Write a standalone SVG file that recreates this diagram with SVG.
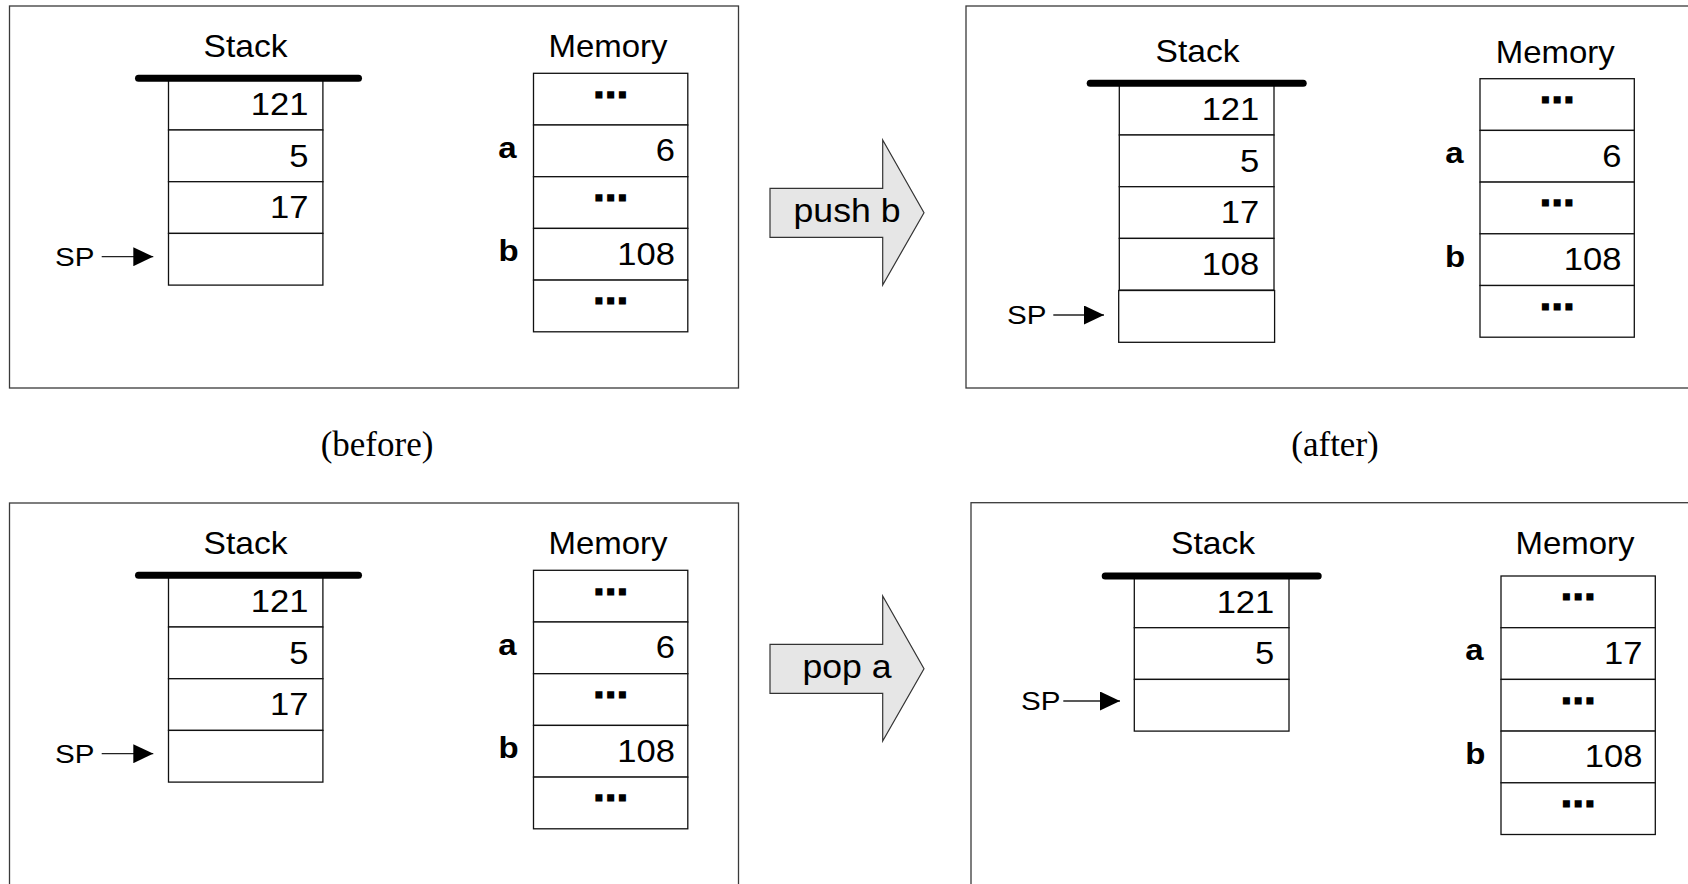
<svg xmlns="http://www.w3.org/2000/svg" width="1688" height="884" viewBox="0 0 1688 884">
  <defs>
    <style>
      .panel { fill: none; stroke: #3a3a3a; stroke-width: 1.3; }
      .cell { fill: #ffffff; stroke: #111111; stroke-width: 1.3; }
      .bar { stroke: #000000; stroke-width: 7; stroke-linecap: round; }
      .op { fill: #e6e6e6; stroke: #333333; stroke-width: 1.2; stroke-linejoin: miter; }
      .ptr { stroke: #222222; stroke-width: 1.3; marker-end: url(#head); }
      text { font-family: "Liberation Sans", Arial, sans-serif; fill: #000000; }
      .title { font-size: 32px; text-anchor: middle; }
      .num { font-size: 32px; text-anchor: end; }
      .dots { font-size: 30px; font-weight: bold; text-anchor: middle; letter-spacing: 3.4px; stroke: #000000; stroke-width: 2.8; stroke-linejoin: miter; }
      .var { font-size: 30px; font-weight: bold; text-anchor: middle; }
      .sp { font-size: 25.5px; text-anchor: end; }
      .opl { font-size: 33px; text-anchor: middle; }
      .cap { font-family: "Liberation Serif", "Times New Roman", serif; font-size: 35px; text-anchor: middle; }
    </style>
    <marker id="head" markerWidth="20" markerHeight="19" refX="20" refY="9.5" orient="auto" markerUnits="userSpaceOnUse">
      <path d="M0,0 L20,9.5 L0,19 Z" fill="#000000"/>
    </marker>
  </defs>

  <rect width="1688" height="884" fill="#ffffff"/>

  <!-- frames -->
  <g id="panel-push-before"><rect class="panel" x="9.5" y="6" width="729" height="382"/></g>
  <g id="panel-push-after"><rect class="panel" x="966" y="6" width="740" height="382"/></g>
  <g id="panel-pop-before"><rect class="panel" x="9.5" y="503" width="729" height="382"/></g>
  <g id="panel-pop-after"><rect class="panel" x="971" y="502.7" width="740" height="400"/></g>

  <!-- captions -->
  <g id="caption-before"><text class="cap" x="377" y="455.5">(before)</text></g>
  <g id="caption-after"><text class="cap" x="1335" y="455.5">(after)</text></g>

  <!-- operation arrows -->
  <g id="op-push">
    <path class="op" d="M770,188.3 H882.7 V140 L924,212.7 L882.7,285 V237.3 H770 Z"/>
    <text class="opl" transform="translate(847 222) scale(1.08 1)">push b</text>
  </g>
  <g id="op-pop">
    <path class="op" d="M770,644.3 H882.7 V596 L924,668.7 L882.7,741 V693.3 H770 Z"/>
    <text class="opl" transform="translate(847 678) scale(1.08 1)">pop a</text>
  </g>

  <!-- stack, before push -->
  <g id="stack-1">
    <text class="title" transform="translate(245.5 57) scale(1.05 1)">Stack</text>
    <rect class="cell" x="168.5" y="78.3" width="154.4" height="51.7"/>
    <rect class="cell" x="168.5" y="130" width="154.4" height="51.7"/>
    <rect class="cell" x="168.5" y="181.7" width="154.4" height="51.7"/>
    <rect class="cell" x="168.5" y="233.4" width="154.4" height="51.7"/>
    <line class="bar" x1="138.5" y1="78.3" x2="358.5" y2="78.3"/>
    <text class="num" transform="translate(308.5 114.8) scale(1.08 1)">121</text>
    <text class="num" transform="translate(308.5 166.5) scale(1.08 1)">5</text>
    <text class="num" transform="translate(308.5 218.2) scale(1.08 1)">17</text>
    <text class="sp" transform="translate(94.4 265.6) scale(1.16 1)">SP</text>
  </g>

  <!-- memory, before push -->
  <g id="memory-1">
    <text class="title" transform="translate(608 57) scale(1.03 1)">Memory</text>
    <rect class="cell" x="533.5" y="73.3" width="154.3" height="51.7"/>
    <rect class="cell" x="533.5" y="125" width="154.3" height="51.7"/>
    <rect class="cell" x="533.5" y="176.7" width="154.3" height="51.7"/>
    <rect class="cell" x="533.5" y="228.4" width="154.3" height="51.7"/>
    <rect class="cell" x="533.5" y="280.1" width="154.3" height="51.7"/>
    <text class="dots" x="612.4" y="96.6">...</text>
    <text class="num" transform="translate(675 161.3) scale(1.08 1)">6</text>
    <text class="dots" x="612.4" y="200">...</text>
    <text class="num" transform="translate(675 264.7) scale(1.08 1)">108</text>
    <text class="dots" x="612.4" y="303.4">...</text>
    <text class="var" transform="translate(507.5 158) scale(1.1 1)">a</text>
    <text class="var" transform="translate(508.5 261.3) scale(1.1 1)">b</text>
  </g>

  <!-- stack, after push -->
  <g id="stack-2">
    <text class="title" transform="translate(1197.5 62) scale(1.05 1)">Stack</text>
    <rect class="cell" x="1119.3" y="83.3" width="154.7" height="51.7"/>
    <rect class="cell" x="1119.3" y="135" width="154.7" height="51.7"/>
    <rect class="cell" x="1119.3" y="186.7" width="154.7" height="51.7"/>
    <rect class="cell" x="1119.3" y="238.4" width="154.7" height="51.7"/>
    <rect class="cell" x="1118.7" y="290.5" width="155.9" height="51.8"/>
    <line class="bar" x1="1090.2" y1="83.3" x2="1303.2" y2="83.3"/>
    <text class="num" transform="translate(1259.3 119.8) scale(1.08 1)">121</text>
    <text class="num" transform="translate(1259.3 171.5) scale(1.08 1)">5</text>
    <text class="num" transform="translate(1259.3 223.2) scale(1.08 1)">17</text>
    <text class="num" transform="translate(1259.3 274.9) scale(1.08 1)">108</text>
    <text class="sp" transform="translate(1046.4 323.9) scale(1.16 1)">SP</text>
  </g>

  <!-- memory, after push -->
  <g id="memory-2">
    <text class="title" transform="translate(1555.3 62.5) scale(1.03 1)">Memory</text>
    <rect class="cell" x="1480" y="78.7" width="154.3" height="51.7"/>
    <rect class="cell" x="1480" y="130.4" width="154.3" height="51.7"/>
    <rect class="cell" x="1480" y="182.1" width="154.3" height="51.7"/>
    <rect class="cell" x="1480" y="233.8" width="154.3" height="51.7"/>
    <rect class="cell" x="1480" y="285.5" width="154.3" height="51.7"/>
    <text class="dots" x="1558.9" y="102">...</text>
    <text class="num" transform="translate(1621.5 166.7) scale(1.08 1)">6</text>
    <text class="dots" x="1558.9" y="205.4">...</text>
    <text class="num" transform="translate(1621.5 270.1) scale(1.08 1)">108</text>
    <text class="dots" x="1558.9" y="308.8">...</text>
    <text class="var" transform="translate(1454.3 163.3) scale(1.1 1)">a</text>
    <text class="var" transform="translate(1455 266.7) scale(1.1 1)">b</text>
  </g>

  <!-- stack, before pop -->
  <g id="stack-3">
    <text class="title" transform="translate(245.5 554) scale(1.05 1)">Stack</text>
    <rect class="cell" x="168.5" y="575.3" width="154.4" height="51.7"/>
    <rect class="cell" x="168.5" y="627" width="154.4" height="51.7"/>
    <rect class="cell" x="168.5" y="678.7" width="154.4" height="51.7"/>
    <rect class="cell" x="168.5" y="730.4" width="154.4" height="51.7"/>
    <line class="bar" x1="138.5" y1="575.3" x2="358.5" y2="575.3"/>
    <text class="num" transform="translate(308.5 611.8) scale(1.08 1)">121</text>
    <text class="num" transform="translate(308.5 663.5) scale(1.08 1)">5</text>
    <text class="num" transform="translate(308.5 715.2) scale(1.08 1)">17</text>
    <text class="sp" transform="translate(94.4 762.6) scale(1.16 1)">SP</text>
  </g>

  <!-- memory, before pop -->
  <g id="memory-3">
    <text class="title" transform="translate(608 554) scale(1.03 1)">Memory</text>
    <rect class="cell" x="533.5" y="570.3" width="154.3" height="51.7"/>
    <rect class="cell" x="533.5" y="622" width="154.3" height="51.7"/>
    <rect class="cell" x="533.5" y="673.7" width="154.3" height="51.7"/>
    <rect class="cell" x="533.5" y="725.4" width="154.3" height="51.7"/>
    <rect class="cell" x="533.5" y="777.1" width="154.3" height="51.7"/>
    <text class="dots" x="612.4" y="593.6">...</text>
    <text class="num" transform="translate(675 658.3) scale(1.08 1)">6</text>
    <text class="dots" x="612.4" y="697">...</text>
    <text class="num" transform="translate(675 761.7) scale(1.08 1)">108</text>
    <text class="dots" x="612.4" y="800.4">...</text>
    <text class="var" transform="translate(507.5 655) scale(1.1 1)">a</text>
    <text class="var" transform="translate(508.5 758.3) scale(1.1 1)">b</text>
  </g>

  <!-- stack, after pop -->
  <g id="stack-4">
    <text class="title" transform="translate(1213 553.6) scale(1.05 1)">Stack</text>
    <rect class="cell" x="1134.3" y="576" width="154.7" height="51.7"/>
    <rect class="cell" x="1134.3" y="627.7" width="154.7" height="51.7"/>
    <rect class="cell" x="1134.3" y="679.4" width="154.7" height="51.7"/>
    <line class="bar" x1="1105.2" y1="576" x2="1318.2" y2="576"/>
    <text class="num" transform="translate(1274.3 612.5) scale(1.08 1)">121</text>
    <text class="num" transform="translate(1274.3 664.2) scale(1.08 1)">5</text>
    <text class="sp" transform="translate(1060.4 710.1) scale(1.16 1)">SP</text>
  </g>

  <!-- memory, after pop -->
  <g id="memory-4">
    <text class="title" transform="translate(1575 554.3) scale(1.03 1)">Memory</text>
    <rect class="cell" x="1501" y="576" width="154.3" height="51.7"/>
    <rect class="cell" x="1501" y="627.7" width="154.3" height="51.7"/>
    <rect class="cell" x="1501" y="679.4" width="154.3" height="51.7"/>
    <rect class="cell" x="1501" y="731.1" width="154.3" height="51.7"/>
    <rect class="cell" x="1501" y="782.8" width="154.3" height="51.7"/>
    <text class="dots" x="1579.9" y="599.3">...</text>
    <text class="num" transform="translate(1642.5 664) scale(1.08 1)">17</text>
    <text class="dots" x="1579.9" y="702.7">...</text>
    <text class="num" transform="translate(1642.5 767.4) scale(1.08 1)">108</text>
    <text class="dots" x="1579.9" y="806.1">...</text>
    <text class="var" transform="translate(1474.5 660.3) scale(1.1 1)">a</text>
    <text class="var" transform="translate(1475.2 763.7) scale(1.1 1)">b</text>
  </g>

  <!-- stack pointer arrows -->
  <g id="connectors">
    <line class="ptr" x1="101.7" y1="256.7" x2="153.3" y2="256.7"/>
    <line class="ptr" x1="1053.3" y1="315" x2="1104" y2="315"/>
    <line class="ptr" x1="101.7" y1="753.7" x2="153.3" y2="753.7"/>
    <line class="ptr" x1="1063.3" y1="701" x2="1120" y2="701"/>
  </g>
</svg>
